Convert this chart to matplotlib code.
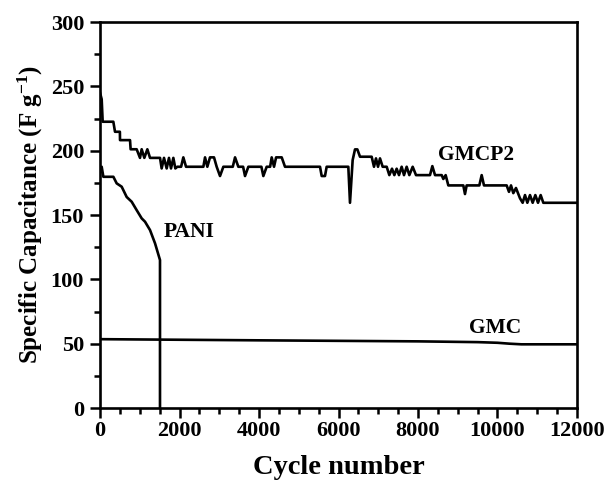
import numpy as np
import matplotlib
matplotlib.use("Agg")
import matplotlib.pyplot as plt
from matplotlib.ticker import MultipleLocator

# GMCP2 (cycles, F/g)
gmcp2_x = [0, 42, 67, 335, 377, 500, 503, 755, 770, 922, 1006, 1048, 1115, 1191, 1258,
           1510, 1551, 1610, 1677, 1735, 1786, 1845, 1895, 1945, 2040, 2096, 2164,
           2600, 2642, 2700, 2767, 2820, 2868, 2935, 3019, 3103, 3340, 3397, 3480,
           3600, 3648, 3732, 4060, 4109, 4193, 4280, 4319, 4378, 4430, 4487, 4571, 4654,
           5535, 5577, 5660, 5702, 6247, 6289, 6356, 6415, 6474, 6541, 6834, 6893,
           6943, 6994, 7044, 7111, 7212, 7279, 7346, 7405, 7463, 7522, 7589, 7648,
           7715, 7782, 7866, 7950, 8302, 8361, 8428, 8596, 8637, 8696, 8763,
           9140, 9182, 9224, 9543, 9602, 9660, 10231, 10289, 10340, 10398, 10465,
           10566, 10633, 10692, 10751, 10818, 10885, 10952, 11019, 11086, 11153, 12000]
gmcp2_y = [245, 240, 222.5, 222.5, 214.7, 214.7, 208.2, 208.2, 201.1, 201.1, 194.4, 201.1,
           194.4, 201.1, 194.4, 194.4, 186.2, 194.4, 186.2, 194.4, 186.2, 194.4, 186.2,
           187.5, 187.5, 194.8, 187.5, 187.5, 194.8, 187.5, 194.8, 194.8, 194.8, 187.5,
           180.3, 187.5, 187.5, 194.8, 187.5, 187.5, 180.3, 187.5, 187.5, 180.3, 187.5,
           187.5, 194.8, 187.5, 194.8, 194.8, 194.8, 187.5,
           187.5, 180.3, 180.3, 187.5, 187.5, 159.5, 192.7, 201, 201, 195.3, 195.3,
           187.5, 194, 187.5, 194, 187.5, 187.5, 181, 186, 181, 186, 181, 187.5, 181,
           187.5, 181, 187.5, 181, 181, 188, 181, 181, 178, 181, 173,
           173, 166.3, 173, 173, 181, 173, 173, 168, 173, 167, 171,
           163, 159.5, 165.5, 159.5, 165.5, 159.5, 165.5, 159.5, 165.5, 159.5, 159.5]

# PANI
pani_x = [0, 42, 84, 336, 419, 545, 671, 797, 922, 1048, 1132, 1258, 1384, 1509, 1509]
pani_y = [183, 187.5, 179.7, 179.7, 174.6, 172, 164, 160.3, 153.8, 147.4, 144.8, 138.3,
          128, 115, 0]

# GMC
gmc_x = [0, 4000, 8000, 9500, 10000, 10300, 10600, 12000]
gmc_y = [53.5, 52.6, 51.8, 51.2, 50.7, 50.0, 49.5, 49.5]

plt.rcParams['font.family'] = ['Liberation Serif', 'DejaVu Serif']
plt.rcParams['font.weight'] = 'bold'
plt.rcParams['mathtext.fontset'] = 'custom'
plt.rcParams['mathtext.rm'] = 'Liberation Serif:bold'
plt.rcParams['mathtext.it'] = 'Liberation Serif:bold'
plt.rcParams['mathtext.bf'] = 'Liberation Serif:bold'

fig = plt.figure(figsize=(6.08, 4.87), dpi=100)
ax = fig.add_axes([0.1645, 0.1622, 0.7845, 0.7926])

lw = 1.9
ax.plot(gmcp2_x, gmcp2_y, color="black", linewidth=lw, solid_joinstyle="round")
ax.plot(pani_x, pani_y, color="black", linewidth=lw, solid_joinstyle="round")
ax.plot(gmc_x, gmc_y, color="black", linewidth=lw, solid_joinstyle="round")

ax.text(9460, 197, "GMCP2", fontsize=15.5, fontweight="bold", ha="center", va="center")
ax.text(2240, 137, "PANI", fontsize=15.5, fontweight="bold", ha="center", va="center")
ax.text(9940, 62, "GMC", fontsize=15.5, fontweight="bold", ha="center", va="center")

ax.set_xlim(0, 12000)
ax.set_ylim(0, 300)
ax.xaxis.set_major_locator(MultipleLocator(2000))
ax.xaxis.set_minor_locator(MultipleLocator(500))
ax.yaxis.set_major_locator(MultipleLocator(50))
ax.yaxis.set_minor_locator(MultipleLocator(25))
ax.tick_params(which="both", direction="out", top=False, right=False, width=1.8)
ax.tick_params(which="major", length=7.5, labelsize=16, pad=2)
ax.tick_params(which="minor", length=4)
ax.tick_params(axis="y", which="major", pad=4)
for sp in ax.spines.values():
    sp.set_linewidth(1.9)

ax.set_xlabel("Cycle number", fontsize=20.5, fontweight="bold", labelpad=10)
ax.set_ylabel("Specific Capacitance (F g$^{-1}$)", fontsize=18, fontweight="bold", labelpad=4)

plt.savefig("out.png", dpi=100)
